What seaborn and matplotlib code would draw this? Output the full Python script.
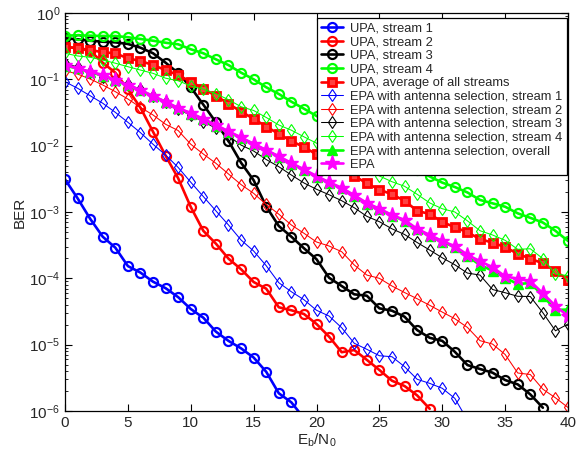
import matplotlib
matplotlib.use("Agg")
import matplotlib.pyplot as plt
import numpy as np
import pandas as pd
import seaborn as sns

# Eb/N0 grid (dB); shorter series stop where the curve leaves the axes
ebn0 = list(range(0, 41))

upa_s1 = [3.1e-3, 1.61e-3, 7.9e-4, 4.24e-4, 2.90e-4, 1.53e-4, 1.22e-4, 8.9e-5, 7.1e-5, 5.2e-5,
          3.45e-5, 2.55e-5, 1.57e-5, 1.14e-5, 8.8e-6, 6.4e-6, 3.9e-6, 1.85e-6, 1.35e-6, 7.8e-7]
upa_s2 = [0.31, 0.294, 0.27, 0.178, 0.126, 0.0708, 0.0373, 0.0162, 7.06e-3, 3.22e-3,
          1.19e-3, 5.2e-4, 3.33e-4, 1.98e-4, 1.37e-4, 8.8e-5, 6.98e-5, 3.66e-5, 3.3e-5, 2.9e-5,
          2.05e-5, 1.32e-5, 7.7e-6, 8.3e-6, 5.9e-6, 4.15e-6, 2.86e-6, 2.38e-6, 1.72e-6, 1.08e-6]
upa_s3 = [0.416, 0.401, 0.382, 0.369, 0.361, 0.341, 0.300, 0.247, 0.178, 0.124,
          0.0759, 0.0415, 0.0225, 0.0118, 5.53e-3, 3.01e-3, 1.21e-3, 6.15e-4, 4.24e-4, 2.84e-4,
          1.94e-4, 1.02e-4, 7.66e-5, 5.74e-5, 5.47e-5, 3.53e-5, 3.25e-5, 2.64e-5, 1.66e-5, 1.27e-5,
          1.14e-5, 7.8e-6, 4.93e-6, 4.3e-6, 3.78e-6, 2.93e-6, 2.52e-6, 1.78e-6, 1.12e-6]
upa_s4 = [0.455, 0.461, 0.455, 0.450, 0.450, 0.431, 0.406, 0.382, 0.356, 0.337,
          0.284, 0.247, 0.200, 0.164, 0.126, 0.100, 0.0759, 0.0601, 0.0460, 0.0361,
          0.0280, 0.0220, 0.0172, 0.0135, 0.0106, 8.45e-3, 6.75e-3, 5.38e-3, 4.30e-3, 3.43e-3,
          2.77e-3, 2.38e-3, 1.97e-3, 1.52e-3, 1.35e-3, 1.20e-3, 9.55e-4, 8.17e-4, 6.93e-4, 5.20e-4,
          3.66e-4]
upa_avg = [0.310, 0.294, 0.277, 0.256, 0.247, 0.207, 0.189, 0.164, 0.138, 0.116,
           0.0920, 0.0723, 0.0561, 0.0430, 0.0325, 0.0255, 0.0193, 0.0151, 0.0117, 9.55e-3,
           7.36e-3, 5.68e-3, 4.45e-3, 3.49e-3, 2.71e-3, 2.18e-3, 1.84e-3, 1.48e-3, 1.04e-3, 9.33e-4,
           7.06e-4, 5.90e-4, 4.94e-4, 3.92e-4, 3.44e-4, 2.96e-4, 2.34e-4, 1.98e-4, 1.68e-4, 1.29e-4,
           9.44e-5]
epa_s1 = [0.0920, 0.0733, 0.0566, 0.0436, 0.0318, 0.0225, 0.0157, 0.0105, 7.23e-3, 4.69e-3,
          2.81e-3, 1.71e-3, 1.04e-3, 6.37e-4, 3.78e-4, 2.58e-4, 1.55e-4, 8.59e-5, 6.28e-5, 4.76e-5,
          3.30e-5, 2.70e-5, 1.80e-5, 1.05e-5, 8.51e-6, 6.81e-6, 6.58e-6, 4.66e-6, 3.01e-6, 2.61e-6,
          2.20e-6, 1.55e-6, 7.3e-7]
epa_s2 = [0.135, 0.120, 0.101, 0.0822, 0.0652, 0.0505, 0.0378, 0.0290, 0.0210, 0.0169,
          0.0105, 7.48e-3, 5.42e-3, 3.74e-3, 2.59e-3, 1.91e-3, 1.30e-3, 9.27e-4, 6.37e-4, 4.78e-4,
          3.53e-4, 3.07e-4, 2.52e-4, 1.59e-4, 1.12e-4, 1.00e-4, 7.66e-5, 6.11e-5, 4.93e-5, 3.92e-5,
          3.10e-5, 2.46e-5, 1.82e-5, 1.15e-5, 1.02e-5, 7.11e-6, 3.74e-6, 3.55e-6, 2.13e-6, 1.58e-6,
          1.13e-6]
epa_s3 = [0.176, 0.153, 0.129, 0.110, 0.0977, 0.0841, 0.0703, 0.0561, 0.0448, 0.0357,
          0.0285, 0.0230, 0.0183, 0.0140, 0.0102, 8.30e-3, 6.18e-3, 4.82e-3, 3.61e-3, 2.74e-3,
          2.20e-3, 1.82e-3, 1.48e-3, 1.16e-3, 8.61e-4, 7.14e-4, 5.58e-4, 4.58e-4, 3.47e-4, 2.67e-4,
          2.04e-4, 1.60e-4, 1.20e-4, 1.12e-4, 6.78e-5, 6.07e-5, 5.36e-5, 5.32e-5, 3.03e-5, 1.62e-5,
          2.05e-5]
epa_s4 = [0.247, 0.225, 0.215, 0.195, 0.175, 0.155, 0.138, 0.123, 0.104, 0.0951,
          0.0793, 0.0708, 0.0605, 0.0494, 0.0386, 0.0339, 0.0266, 0.0205, 0.0171, 0.0136,
          0.0109, 8.61e-3, 6.87e-3, 5.48e-3, 4.38e-3, 3.49e-3, 2.86e-3, 2.44e-3, 1.85e-3, 1.37e-3,
          1.12e-3, 1.00e-3, 7.36e-4, 5.22e-4, 4.50e-4, 3.74e-4, 2.74e-4, 2.79e-4, 1.98e-4, 1.16e-4,
          1.10e-4]
epa_all = [0.160, 0.146, 0.128, 0.114, 0.0965, 0.0815, 0.0680, 0.0555, 0.0455, 0.0365,
           0.0305, 0.0250, 0.0200, 0.0162, 0.0130, 0.0105, 8.45e-3, 6.80e-3, 5.35e-3, 4.30e-3,
           3.42e-3, 2.75e-3, 2.27e-3, 1.75e-3, 1.34e-3, 1.10e-3, 8.85e-4, 7.40e-4, 5.45e-4, 4.40e-4,
           3.55e-4, 2.95e-4, 2.15e-4, 1.59e-4, 1.30e-4, 1.02e-4, 8.2e-5, 8.5e-5, 5.5e-5, 3.33e-5,
           3.39e-5]
epa = [0.164, 0.147, 0.130, 0.116, 0.0977, 0.0822, 0.0690, 0.0561, 0.0460, 0.0370,
       0.0310, 0.0254, 0.0205, 0.0165, 0.0133, 0.0107, 8.61e-3, 6.92e-3, 5.48e-3, 4.38e-3,
       3.49e-3, 2.81e-3, 2.32e-3, 1.79e-3, 1.37e-3, 1.12e-3, 9.02e-4, 7.57e-4, 5.58e-4, 4.50e-4,
       3.66e-4, 3.05e-4, 2.27e-4, 1.81e-4, 1.47e-4, 1.07e-4, 9.84e-5, 9.06e-5, 5.94e-5, 3.83e-5,
       2.70e-5]

series = [
    ("UPA, stream 1", upa_s1, dict(color="#0000ff", marker="o", lw=1.9, ms=6.5, mew=1.6, mfc="none")),
    ("UPA, stream 2", upa_s2, dict(color="#ff0000", marker="o", lw=1.9, ms=6.5, mew=1.6, mfc="none")),
    ("UPA, stream 3", upa_s3, dict(color="#000000", marker="o", lw=1.9, ms=6.5, mew=1.6, mfc="none")),
    ("UPA, stream 4", upa_s4, dict(color="#00ff00", marker="o", lw=1.9, ms=6.5, mew=1.6, mfc="none")),
    ("UPA, average of all streams", upa_avg, dict(color="#ff0000", marker="s", lw=1.9, ms=6.0, mew=2.0, mfc="#ff4040")),
    ("EPA with antenna selection, stream 1", epa_s1, dict(color="#0000ff", marker="d", lw=0.75, ms=6.5, mew=0.8, mfc="none")),
    ("EPA with antenna selection, stream 2", epa_s2, dict(color="#ff0000", marker="d", lw=0.75, ms=6.5, mew=0.8, mfc="none")),
    ("EPA with antenna selection, stream 3", epa_s3, dict(color="#000000", marker="d", lw=0.75, ms=6.5, mew=0.8, mfc="none")),
    ("EPA with antenna selection, stream 4", epa_s4, dict(color="#00ff00", marker="d", lw=0.75, ms=6.5, mew=0.8, mfc="none")),
    ("EPA with antenna selection, overall", epa_all, dict(color="#00ff00", marker="^", lw=1.9, ms=7.5, mew=1.0, mfc="#00ff00")),
    ("EPA", epa, dict(color="#ff00ff", marker="*", lw=1.9, ms=11, mew=1.0, mfc="#ff00ff")),
]

sns.set_theme(style="ticks")
plt.rcParams["font.family"] = ["Liberation Sans", "DejaVu Sans"]
plt.rcParams["mathtext.fontset"] = "custom"
plt.rcParams["mathtext.rm"] = "Liberation Sans"
plt.rcParams["mathtext.it"] = "Liberation Sans:italic"

fig = plt.figure(figsize=(5.82, 4.54), dpi=100)
ax = fig.add_axes([0.1117, 0.0947, 0.8643, 0.8767])

for label, values, st in series:
    df = pd.DataFrame({"ebn0": ebn0[:len(values)], "ber": values})
    sns.lineplot(
        data=df, x="ebn0", y="ber", ax=ax, label=label,
        color=st["color"], marker=st["marker"], linewidth=st["lw"],
        markersize=st["ms"], markeredgewidth=st["mew"],
        markeredgecolor=st["color"], markerfacecolor=st["mfc"],
    )

ax.set_yscale("log")
ax.set_xlim(0, 40)
ax.set_ylim(1e-6, 1)
ax.set_xticks(range(0, 41, 5))
ax.set_yticks([1e-6, 1e-5, 1e-4, 1e-3, 1e-2, 1e-1, 1])
ax.set_xlabel(r"$\mathregular{E_b/N_0}$", fontsize=11, labelpad=1)
ax.set_ylabel("BER", fontsize=11, labelpad=2)
ax.tick_params(which="both", direction="in", top=True, right=True, labelsize=11, color="black")
ax.tick_params(which="major", length=5, width=0.8)
ax.tick_params(which="minor", length=2.5, width=0.6)
ax.tick_params(axis="x", which="minor", bottom=False, top=False)
for sp in ax.spines.values():
    sp.set_color("black")
    sp.set_linewidth(0.9)

leg = ax.legend(
    loc="upper right", bbox_to_anchor=(0.998, 0.987), borderaxespad=0,
    fontsize=9.3, labelspacing=0.12, handlelength=1.7, handletextpad=0.55,
    borderpad=0.35, frameon=True, fancybox=False, framealpha=1,
)
leg.get_frame().set_edgecolor("black")
leg.get_frame().set_linewidth(0.9)

fig.savefig("out.png", dpi=100)
